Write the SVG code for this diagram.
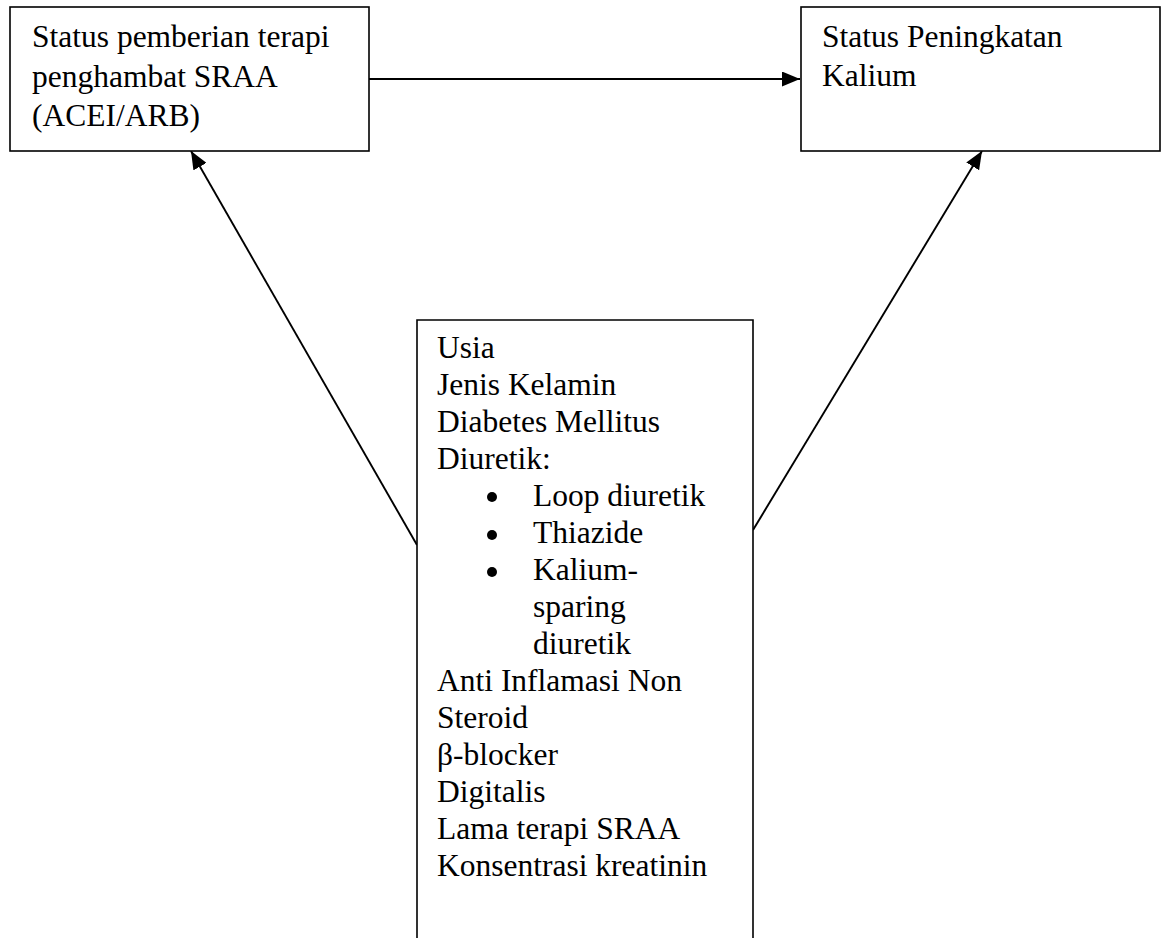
<svg xmlns="http://www.w3.org/2000/svg" width="1161" height="938" viewBox="0 0 1161 938">
<style>
.box{fill:#fff;stroke:#000;stroke-width:1.6}
.t{font-family:"Liberation Serif","Times New Roman",serif;font-size:31.5px;fill:#000}
.c{stroke:#000;stroke-width:1.9;fill:none}
</style>
<defs>
<marker id="ah" viewBox="0 0 18 15" refX="18" refY="7.5" markerWidth="18" markerHeight="15" markerUnits="userSpaceOnUse" orient="auto">
<path d="M0,0 L18,7.5 L0,15 z" fill="#000"/>
</marker>
</defs>
<rect width="1161" height="938" fill="#fff"/>
<g id="connectors">
<line class="c" x1="369" y1="79" x2="800" y2="79" marker-end="url(#ah)"/>
<line class="c" x1="417" y1="545" x2="191" y2="151" marker-end="url(#ah)"/>
<line class="c" x1="753" y1="530" x2="982" y2="151" marker-end="url(#ah)"/>
</g>
<g id="node-sraa">
<rect class="box" x="10" y="7" width="359" height="144"/>
<text class="t" x="32" y="47">Status pemberian terapi</text>
<text class="t" x="32" y="87">penghambat SRAA</text>
<text class="t" x="32" y="126">(ACEI/ARB)</text>
</g>
<g id="node-kalium">
<rect class="box" x="801" y="7" width="359" height="144"/>
<text class="t" x="822" y="47">Status Peningkatan</text>
<text class="t" x="822" y="86">Kalium</text>
</g>
<g id="node-confounders">
<path class="box" d="M417,945 L417,320 L753,320 L753,945"/>
<text class="t" x="437" y="358">Usia</text>
<text class="t" x="437" y="395">Jenis Kelamin</text>
<text class="t" x="437" y="432">Diabetes Mellitus</text>
<text class="t" x="437" y="469">Diuretik:</text>
<circle cx="492" cy="497" r="5"/>
<text class="t" x="533" y="506">Loop diuretik</text>
<circle cx="492" cy="535" r="5"/>
<text class="t" x="533" y="543">Thiazide</text>
<circle cx="492" cy="572" r="5"/>
<text class="t" x="533" y="580">Kalium-</text>
<text class="t" x="533" y="617">sparing</text>
<text class="t" x="533" y="654">diuretik</text>
<text class="t" x="437" y="691">Anti Inflamasi Non</text>
<text class="t" x="437" y="728">Steroid</text>
<text class="t" x="437" y="765">β-blocker</text>
<text class="t" x="437" y="802">Digitalis</text>
<text class="t" x="437" y="839">Lama terapi SRAA</text>
<text class="t" x="437" y="876">Konsentrasi kreatinin</text>
</g>
</svg>
